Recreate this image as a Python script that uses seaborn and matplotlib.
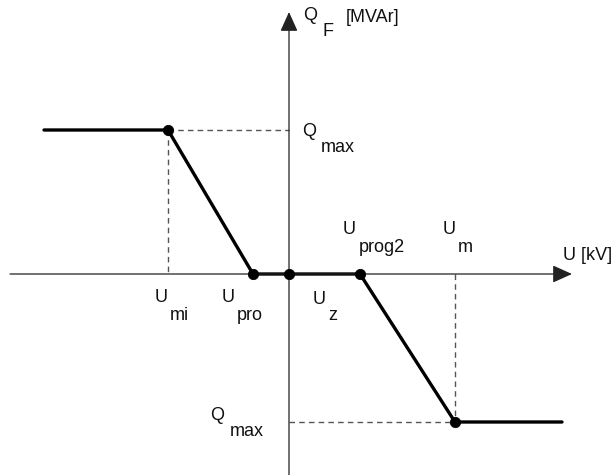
import matplotlib
matplotlib.use("Agg")
import matplotlib.pyplot as plt
import seaborn as sns
import pandas as pd

sns.set_theme(style="white")
plt.rcParams['font.family'] = ['Liberation Sans', 'DejaVu Sans']

# Characteristic Q_F(U) (pixel-derived units, origin at axis crossing)
curve_u = [-245, -121, -36, 0, 71, 166, 273]
curve_q = [144, 144, 0, 0, 0, -148, -148]
# highlighted points
pts_u = [-121, -36, 0, 71, 166]
pts_q = [144, 0, 0, 0, -148]

df_curve = pd.DataFrame({"U": curve_u, "Q": curve_q})
df_pts = pd.DataFrame({"U": pts_u, "Q": pts_q})

fig = plt.figure(figsize=(6.14, 4.75), dpi=100)
ax = fig.add_axes([0, 0, 1, 1])

# axes with arrows
ax.annotate("", xy=(283, 0), xytext=(-279, 0),
            arrowprops=dict(arrowstyle="-|>,head_length=1.0,head_width=0.45",
                            color="#222222", lw=0.9, shrinkA=0, shrinkB=0))
ax.annotate("", xy=(0, 262), xytext=(0, -201),
            arrowprops=dict(arrowstyle="-|>,head_length=1.0,head_width=0.45",
                            color="#222222", lw=0.9, shrinkA=0, shrinkB=0))

# dashed guides
dash = dict(color="#555555", lw=1.0, ls=(0, (4, 3)))
ax.plot([curve_u[1], 0], [curve_q[1], curve_q[1]], **dash)
ax.plot([curve_u[1], curve_u[1]], [curve_q[1], 0], **dash)
ax.plot([0, curve_u[5]], [curve_q[5], curve_q[5]], **dash)
ax.plot([curve_u[5], curve_u[5]], [0, curve_q[5]], **dash)

sns.lineplot(data=df_curve, x="U", y="Q", ax=ax, color="black", lw=2.4,
             sort=False, estimator=None)
sns.scatterplot(data=df_pts, x="U", y="Q", ax=ax, color="black", s=55,
                edgecolor="black", zorder=5)
ax.set_xlim(-289, 325)
ax.set_ylim(-201, 274)
ax.axis("off")

fs = 13

def px(xp, yp):
    return xp - 289, 274 - yp

def txt(xp, yp, s):
    x, y = px(xp, yp)
    ax.text(x, y, s, fontsize=fs, ha="left", va="center", color="#111111")

# (text, left pixel x, center pixel y)
labels = [
    ("Q", 303, 15), ("F", 323, 31), ("[MVAr]", 346, 17),
    ("Q", 302, 132), ("max", 321, 148),
    ("U", 155, 298), ("mi", 170, 316),
    ("U", 222, 298), ("pro", 237, 316),
    ("U", 313, 299), ("z", 328, 316),
    ("U", 343, 230), ("prog2", 359, 247),
    ("U", 443, 230), ("m", 458, 247),
    ("U [kV]", 563, 255),
    ("Q", 210, 415), ("max", 230, 432),
]
for s, xp, yp in labels:
    txt(xp, yp, s)

fig.savefig("out.png", dpi=100)
